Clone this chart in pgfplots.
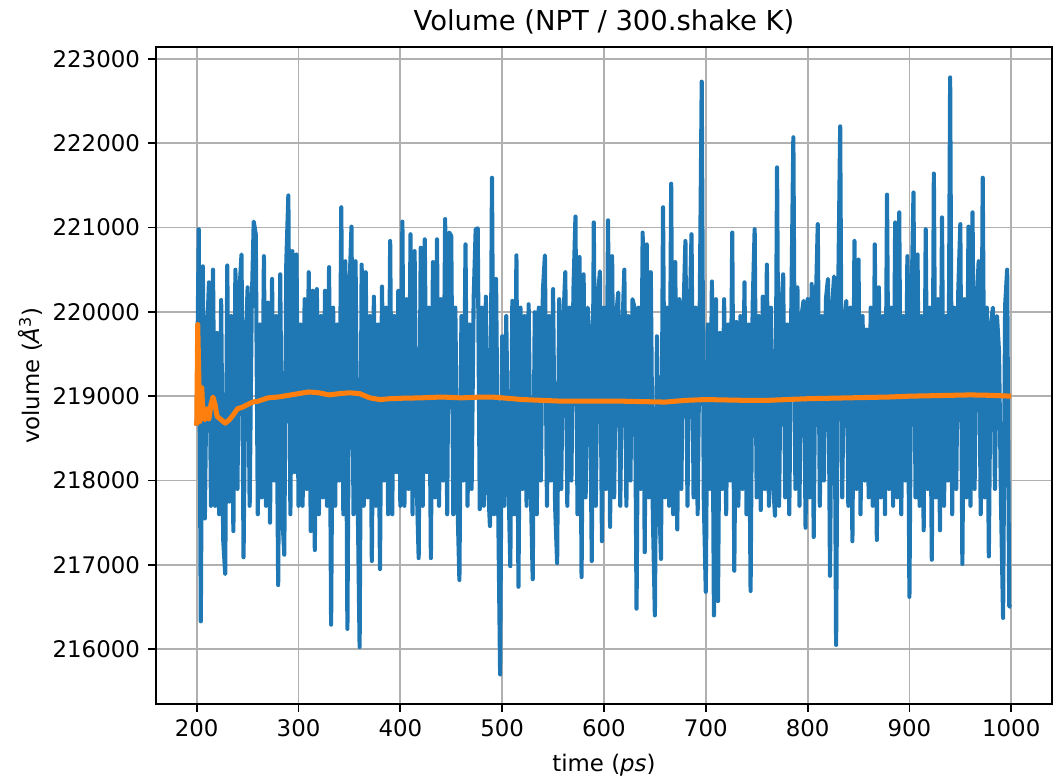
\documentclass[border=0pt]{standalone}
\usepackage{fontspec}
\setmainfont{DejaVu Sans}
\usepackage{pgfplots}
\usepackage{pgfplotstable}
\pgfplotsset{compat=1.18}
\definecolor{mplblue}{HTML}{1F77B4}
\definecolor{mplorange}{HTML}{FF7F0E}
\definecolor{gridgray}{HTML}{B0B0B0}

\pgfplotstableread{
t v
200 218650
202 220980
204 216330
206 220540
208 217550
210 219650
212 220350
214 217700
216 220500
218 217700
220 219750
222 217600
224 220140
226 217300
228 216890
230 220550
232 217750
234 219950
236 217400
238 220500
240 217900
242 220250
244 220680
246 217090
248 219550
250 220290
252 217700
254 220050
256 221070
258 220920
260 217600
262 219850
264 217800
266 220660
268 217700
270 220110
272 217500
274 220390
276 218000
278 219950
280 216760
282 220445
284 217600
286 217120
288 220590
290 221380
292 217600
294 220720
296 218100
298 220680
300 217700
302 219850
304 217700
306 220150
308 217900
310 220470
312 217400
314 220250
316 217175
318 220270
320 217600
322 219950
324 217800
326 220250
328 217700
330 220530
332 216290
334 220050
336 217700
338 219850
340 218000
342 221240
344 217600
346 220600
348 216240
350 220250
352 221010
354 217600
356 220600
358 217900
360 216025
362 220560
364 217700
366 220470
368 217800
370 219950
372 217045
374 220180
376 217700
378 219850
380 216950
382 220300
384 218000
386 220050
388 217600
390 220840
392 217600
394 219950
396 218100
398 220250
400 217700
402 221070
404 217700
406 220150
408 217900
410 220920
412 217600
414 220720
416 218000
418 217080
420 220760
422 217700
424 220860
426 218100
428 220050
430 217080
432 220590
434 217800
436 220860
438 217700
440 220150
442 218000
444 221100
446 217600
448 220940
450 220900
452 217600
454 220050
456 217800
458 216820
460 219950
462 218000
464 220800
466 217700
468 219850
470 217900
472 220150
474 220980
476 220990
478 217660
480 220050
482 217700
484 220180
486 218000
488 217460
490 221590
492 217600
494 220390
496 217800
498 215700
500 219710
502 217700
504 219950
506 218100
508 216985
510 220130
512 217600
514 220670
516 216740
518 220050
520 217900
522 219950
524 217700
526 220090
528 218000
530 216830
532 219995
534 217600
536 220050
538 218000
540 220250
542 220670
544 217700
546 219950
548 218000
550 220270
552 217700
554 217020
556 220150
558 217900
560 219850
562 220470
564 217700
566 220050
568 218000
570 220250
572 221130
574 217600
576 220650
578 216855
580 220445
582 217800
584 220050
586 219650
588 217045
590 221060
592 217700
594 220150
596 220480
598 217280
600 220050
602 217900
604 221085
606 217450
608 220660
610 217800
612 219950
614 220230
616 217700
618 219750
620 220500
622 217700
624 219950
626 218000
628 220150
630 220050
632 216480
634 220050
636 217900
638 220940
640 217150
642 220800
644 217800
646 220470
648 217600
650 216400
652 219710
654 217900
656 217070
658 221240
660 217800
662 220050
664 217700
666 221520
668 217600
670 220590
672 217420
674 220150
676 217900
678 219950
680 220840
682 217700
684 219850
686 220920
688 217800
690 220050
692 217600
694 219950
696 222730
698 217800
700 216680
702 219850
704 217900
706 220360
708 216400
710 220150
712 216570
714 219750
716 217900
718 220150
720 217600
722 219850
724 218000
726 220940
728 216930
730 219880
732 217700
734 219950
736 217900
738 220350
740 217600
742 219850
744 216690
746 220050
748 220980
750 217800
752 219950
754 217650
756 220180
758 217900
760 220560
762 217700
764 220050
766 218000
768 217580
770 221713
772 217700
774 219950
776 220445
778 217800
780 219850
782 217600
784 220050
786 222070
788 217900
790 220290
792 217700
794 219950
796 220130
798 217440
800 220150
802 217800
804 220330
806 217330
808 220050
810 221040
812 217700
814 219950
816 218000
818 220150
820 220390
822 216870
824 220050
826 220420
828 216050
830 220150
832 222200
834 217800
836 219850
838 220130
840 217700
842 220050
844 217280
846 220840
848 217900
850 220620
852 217600
854 219950
856 218000
858 219790
860 217800
862 220050
864 217700
866 220800
868 217295
870 220290
872 217800
874 219950
876 217600
878 221390
880 217900
882 220050
884 217700
886 221060
888 217800
890 221180
892 217600
894 219950
896 218000
898 220660
900 216620
902 220050
904 221415
906 217800
908 220680
910 217700
912 219950
914 217410
916 220980
918 217900
920 220050
922 217060
924 221640
926 217800
928 220150
930 217410
932 221120
934 217700
936 219950
938 218000
940 222780
942 217600
944 220050
946 217900
948 220250
950 221040
952 217010
954 220150
956 217800
958 221010
960 217700
962 221180
964 217900
966 220050
968 220600
970 217600
972 221590
974 217800
976 220050
978 217100
980 219850
982 220050
984 217900
986 219950
988 219530
990 217700
992 216370
994 220070
996 220500
998 216510
1000 216500
}\bluedata

\pgfplotstableread{
t v
200 218650
201 219850
203 218700
205 219100
206 218800
208 218720
210 218850
212 218730
214 218900
216 218990
218 218900
220 218760
224 218720
228 218680
232 218720
236 218780
240 218850
245 218870
250 218900
255 218930
260 218940
270 218980
280 218990
290 219010
300 219030
310 219050
320 219040
330 219015
340 219030
350 219040
360 219030
370 218980
380 218960
390 218970
400 218975
420 218980
440 218990
460 218980
480 218990
490 218990
500 218980
520 218960
540 218950
560 218940
580 218940
600 218940
620 218940
640 218935
660 218930
680 218950
700 218960
720 218955
740 218950
760 218950
780 218960
800 218970
820 218975
840 218980
860 218985
880 218990
900 219000
920 219005
940 219010
960 219015
980 219010
1000 219000
}\orangedata

\begin{document}
\begin{tikzpicture}
\begin{axis}[
  scale only axis,
  width=392pt, height=287.4pt,
  xmin=160, xmax=1040, ymin=215350, ymax=223140,
  xtick={200,300,...,1000},
  ytick={216000,217000,...,223000},
  scaled ticks=false,
  /pgf/number format/fixed,
  /pgf/number format/1000 sep={},
  /pgf/number format/assume math mode=true,
  tick label style={font=\fontsize{10}{12}\selectfont},
  tick align=outside,
  tick pos=left,
  major tick length=3.5pt,
  tick style={black, line width=0.8pt},
  axis line style={line width=0.8pt},
  grid=major,
  major grid style={gridgray, line width=0.8pt},
  title={Volume (NPT / 300.shake K)},
  title style={font=\fontsize{12}{14}\selectfont, at={(axis description cs:0.5,1.0209)}, anchor=base, yshift=-4.6pt},
  xlabel={time (\textit{ps})},
  ylabel={volume (\textit{Å}\textsuperscript{3})},
  label style={font=\fontsize{10}{12}\selectfont},
  xlabel style={at={(axis description cs:0.5,-0.093)}, anchor=center},
  ylabel style={at={(axis description cs:-0.1406,0.5)}, anchor=center},
]
\addplot[mplblue, line width=1.8pt, line join=round, no markers] table[x=t, y=v] {\bluedata};
\addplot[mplorange, line width=2.2pt, line join=round, no markers] table[x=t, y=v] {\orangedata};
\end{axis}
\pgfresetboundingbox
\path ([shift={(-68.25pt,-33.25pt)}]current axis.south west) rectangle ([shift={(0.9pt,20.6pt)}]current axis.north east);
\end{tikzpicture}
\end{document}
